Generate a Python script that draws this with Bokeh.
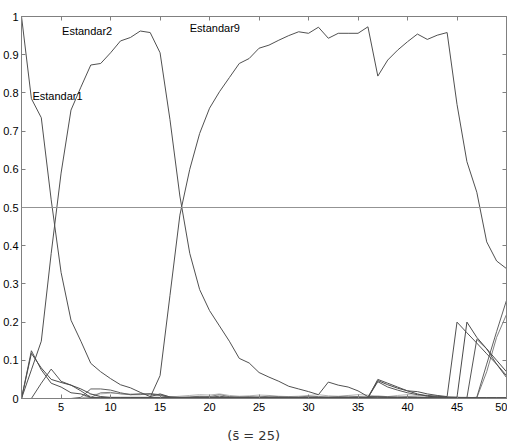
from bokeh.plotting import figure
from bokeh.models import (LinearAxis, FixedTicker, NumeralTickFormatter, Span,
                          Label, Range1d, CustomJSTickFormatter)
from bokeh.embed import file_html
from bokeh.resources import INLINE

# ---------------- data ----------------
x = list(range(1, 51))

estandar1 = [1.0, 0.785, 0.735, 0.52, 0.33, 0.205, 0.15, 0.092, 0.07, 0.052,
             0.036, 0.028, 0.016, 0.005, 0.012, 0.004, 0.002, 0.002, 0.003, 0.002,
             0.002, 0.003, 0.002, 0.002, 0.002, 0.002, 0.002, 0.002, 0.002, 0.003,
             0.002, 0.002, 0.002, 0.002, 0.002, 0.002, 0.004, 0.003, 0.003, 0.002,
             0.002, 0.002, 0.002, 0.002, 0.002, 0.002, 0.002, 0.002, 0.002, 0.002]

estandar2 = [0.0, 0.075, 0.15, 0.38, 0.59, 0.755, 0.815, 0.873, 0.877, 0.905,
             0.936, 0.945, 0.962, 0.958, 0.905, 0.73, 0.53, 0.38, 0.285, 0.23,
             0.19, 0.15, 0.105, 0.093, 0.068, 0.056, 0.045, 0.032, 0.025, 0.018,
             0.01, 0.043, 0.035, 0.03, 0.02, 0.005, 0.004, 0.003, 0.003, 0.003,
             0.003, 0.002, 0.002, 0.002, 0.002, 0.002, 0.002, 0.002, 0.002, 0.002]

estandar9 = [0.0, 0.0, 0.0, 0.0, 0.0, 0.0, 0.0, 0.0, 0.0, 0.0,
             0.0, 0.0, 0.0, 0.003, 0.06, 0.27, 0.48, 0.6, 0.694, 0.76,
             0.803, 0.84, 0.877, 0.89, 0.917, 0.925, 0.938, 0.95, 0.96, 0.956,
             0.972, 0.943, 0.956, 0.956, 0.956, 0.973, 0.844, 0.886, 0.912, 0.934,
             0.954, 0.94, 0.951, 0.958, 0.77, 0.62, 0.54, 0.41, 0.36, 0.34]

estandar3 = [0.0, 0.125, 0.075, 0.04, 0.03, 0.015, 0.012, 0.003, 0.002, 0.002,
             0.002, 0.002, 0.002, 0.002, 0.002, 0.002, 0.002, 0.002, 0.002, 0.002,
             0.002, 0.002, 0.002, 0.002, 0.002, 0.002, 0.002, 0.002, 0.002, 0.002,
             0.002, 0.002, 0.002, 0.002, 0.002, 0.002, 0.05, 0.04, 0.03, 0.02,
             0.018, 0.012, 0.008, 0.005, 0.2, 0.172, 0.145, 0.117, 0.09, 0.06]

estandar4 = [0.0, 0.118, 0.08, 0.05, 0.042, 0.035, 0.025, 0.012, 0.005, 0.003,
             0.003, 0.003, 0.003, 0.003, 0.003, 0.003, 0.003, 0.003, 0.003, 0.003,
             0.003, 0.003, 0.003, 0.003, 0.003, 0.003, 0.003, 0.003, 0.003, 0.003,
             0.003, 0.003, 0.003, 0.003, 0.003, 0.003, 0.047, 0.036, 0.027, 0.02,
             0.012, 0.006, 0.004, 0.003, 0.003, 0.2, 0.16, 0.13, 0.1, 0.07]

estandar5 = [0.0, 0.0, 0.04, 0.077, 0.045, 0.035, 0.02, 0.003, 0.003, 0.002,
             0.002, 0.002, 0.002, 0.002, 0.002, 0.002, 0.002, 0.002, 0.002, 0.002,
             0.002, 0.002, 0.002, 0.002, 0.002, 0.002, 0.002, 0.002, 0.002, 0.002,
             0.002, 0.002, 0.002, 0.002, 0.002, 0.002, 0.044, 0.03, 0.022, 0.015,
             0.01, 0.008, 0.006, 0.004, 0.003, 0.002, 0.155, 0.13, 0.09, 0.055]

estandar6 = [0.0, 0.0, 0.0, 0.0, 0.0, 0.0, 0.003, 0.025, 0.025, 0.022,
             0.015, 0.01, 0.012, 0.012, 0.008, 0.003, 0.002, 0.003, 0.004, 0.003,
             0.006, 0.003, 0.003, 0.002, 0.003, 0.003, 0.002, 0.003, 0.002, 0.002,
             0.002, 0.002, 0.002, 0.002, 0.002, 0.002, 0.002, 0.002, 0.002, 0.002,
             0.002, 0.002, 0.002, 0.002, 0.002, 0.002, 0.003, 0.09, 0.175, 0.257]

estandar7 = [0.0, 0.0, 0.0, 0.0, 0.0, 0.0, 0.0, 0.003, 0.015, 0.016,
             0.012, 0.01, 0.01, 0.013, 0.01, 0.004, 0.003, 0.004, 0.006, 0.005,
             0.01, 0.005, 0.004, 0.005, 0.004, 0.006, 0.005, 0.004, 0.004, 0.006,
             0.005, 0.004, 0.005, 0.006, 0.005, 0.004, 0.006, 0.005, 0.004, 0.005,
             0.004, 0.003, 0.004, 0.003, 0.003, 0.003, 0.002, 0.07, 0.16, 0.22]

estandar8 = [0.0, 0.0, 0.0, 0.0, 0.0, 0.0, 0.0, 0.01, 0.012, 0.014,
             0.013, 0.012, 0.012, 0.01, 0.008, 0.004, 0.006, 0.008, 0.01, 0.009,
             0.012, 0.008, 0.006, 0.007, 0.009, 0.008, 0.006, 0.005, 0.006, 0.008,
             0.01, 0.007, 0.006, 0.008, 0.01, 0.009, 0.006, 0.005, 0.008, 0.01,
             0.008, 0.006, 0.004, 0.003, 0.002, 0.002, 0.002, 0.002, 0.002, 0.002]

series = [estandar8, estandar7, estandar6, estandar5, estandar4, estandar3,
          estandar1, estandar2, estandar9]
series_colors = ["#b4b4b4", "#808080", "#606060", "#555555", "#4a4a4a",
                 "#505050", "#505050", "#505050", "#505050"]

x_ticks = [5, 10, 15, 20, 25, 30, 35, 40, 45, 50]
y_ticks = [0, 0.1, 0.2, 0.3, 0.4, 0.5, 0.6, 0.7, 0.8, 0.9, 1.0]
threshold = 0.5
names = ["Estandar1", "Estandar2", "Estandar9"]
caption = "(s\u0304 = 25)"

# ---------------- figure ----------------
FONT = "Liberation Sans"
FRAME = "#808080"

p = figure(width=507, height=448, x_range=Range1d(1, 50), y_range=Range1d(0, 1),
           output_backend="svg", toolbar_location=None,
           min_border_left=21, min_border_right=1, min_border_top=16,
           min_border_bottom=50)
p.background_fill_color = "white"
p.border_fill_color = "white"
p.outline_line_color = FRAME
p.xgrid.visible = False
p.ygrid.visible = False

for ys, c in zip(series, series_colors):
    p.line(x, ys, line_color=c, line_width=1)

p.add_layout(Span(location=threshold, dimension="width",
                  line_color="#939393", line_width=1))

def style_axis(ax, ticks, labels=True):
    ax.ticker = FixedTicker(ticks=ticks)
    ax.major_tick_in = 4
    ax.major_tick_out = 0
    ax.minor_tick_line_color = None
    ax.axis_line_color = FRAME
    ax.major_tick_line_color = FRAME
    if labels:
        ax.major_label_text_font = FONT
        ax.major_label_text_font_size = "11px"
        ax.major_label_text_color = "#000000"
        ax.major_label_standoff = 3
    else:
        ax.formatter = CustomJSTickFormatter(code="return ''")
        ax.major_label_text_color = None
        ax.major_label_standoff = 0

xa = p.xaxis[0]
style_axis(xa, x_ticks)
xa.major_label_standoff = 4
# caption under the axis (padded on the right to sit slightly left of centre)
xa.axis_label = caption + "\u00a0" * 5
xa.axis_label_text_font = "DejaVu Sans"
xa.axis_label_text_font_size = "13px"
xa.axis_label_text_font_style = "normal"
xa.axis_label_text_color = "#333333"
xa.axis_label_standoff = 14

style_axis(p.yaxis[0], y_ticks)
p.yaxis[0].formatter = NumeralTickFormatter(format="0.[0]")

top = LinearAxis()
style_axis(top, x_ticks, labels=False)
p.add_layout(top, "above")
right = LinearAxis()
style_axis(right, y_ticks, labels=False)
p.add_layout(right, "right")

# class labels
label_pos = {"Estandar1": (2.1, 0.793), "Estandar2": (5.1, 0.962),
             "Estandar9": (18.0, 0.971)}
for n in names:
    lx, ly = label_pos[n]
    p.add_layout(Label(x=lx, y=ly, text=n, text_font=FONT, text_font_size="11px",
                       text_color="#000000", text_baseline="middle",
                       text_align="left"))

open("out.html", "w").write(file_html(p, INLINE))
